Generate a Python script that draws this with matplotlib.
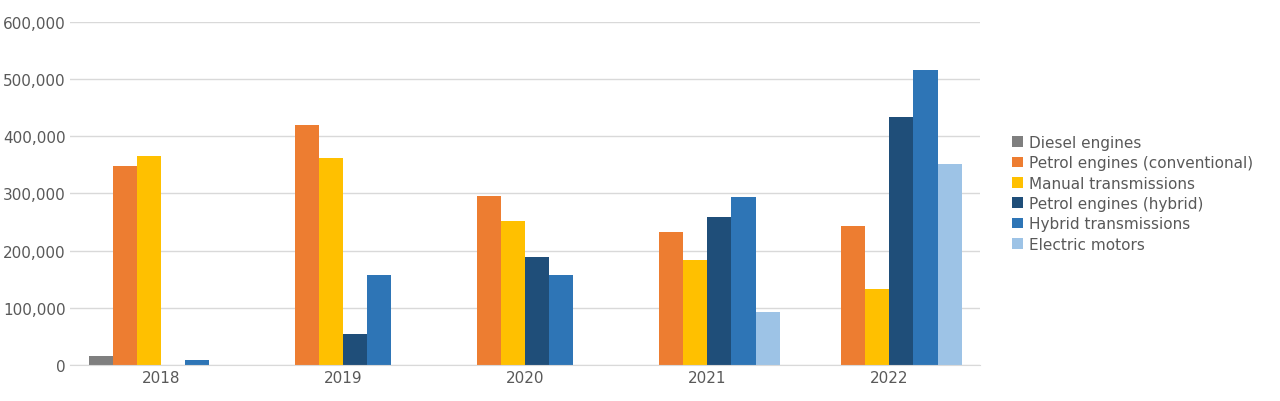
import matplotlib
matplotlib.use('Agg')
import matplotlib.pyplot as plt
import numpy as np

years = ['2018', '2019', '2020', '2021', '2022']
series = ['Diesel engines', 'Petrol engines (conventional)', 'Manual transmissions',
          'Petrol engines (hybrid)', 'Hybrid transmissions', 'Electric motors']
diesel = [16000, 0, 0, 0, 0]
petrol = [348000, 420000, 295000, 232000, 243000]
manual = [365000, 362000, 252000, 184000, 133000]
petrol_hybrid = [0, 54000, 189000, 259000, 434000]
hybrid_trans = [9000, 157000, 157000, 294000, 516000]
electric = [0, 0, 0, 93000, 351000]
colors = ['#7f7f7f', '#ed7d31', '#ffc000', '#1f4e79', '#2e75b6', '#9dc3e6']

values = [diesel, petrol, manual, petrol_hybrid, hybrid_trans, electric]

fig = plt.figure(figsize=(12.8, 4.02), dpi=100)
ax = fig.add_axes([0.055, 0.09, 0.711, 0.853])
x = np.arange(len(years))
w = 0.132
for i, (name, vals) in enumerate(zip(series, values)):
    ax.bar(x + (i - 2.5) * w, vals, w, color=colors[i], label=name, zorder=2)

ax.set_xlim(-0.5, 4.5)
ax.set_ylim(0, 600000)
ax.set_yticks(np.arange(0, 600001, 100000))
ax.set_yticklabels([f'{v:,}' for v in range(0, 600001, 100000)])
ax.set_xticks(x)
ax.set_xticklabels(years)
ax.grid(axis='y', color='#d9d9d9', linewidth=1, zorder=0)
for s in ['top', 'right', 'left']:
    ax.spines[s].set_visible(False)
ax.spines['bottom'].set_color('#d9d9d9')
ax.tick_params(length=0, labelsize=11, colors='#595959')
ax.legend(loc='center left', bbox_to_anchor=(1.02, 0.5), frameon=False,
          fontsize=11, labelcolor='#595959', handlelength=0.7, handleheight=0.7,
          handletextpad=0.4, labelspacing=0.35)
fig.savefig('out.png')
